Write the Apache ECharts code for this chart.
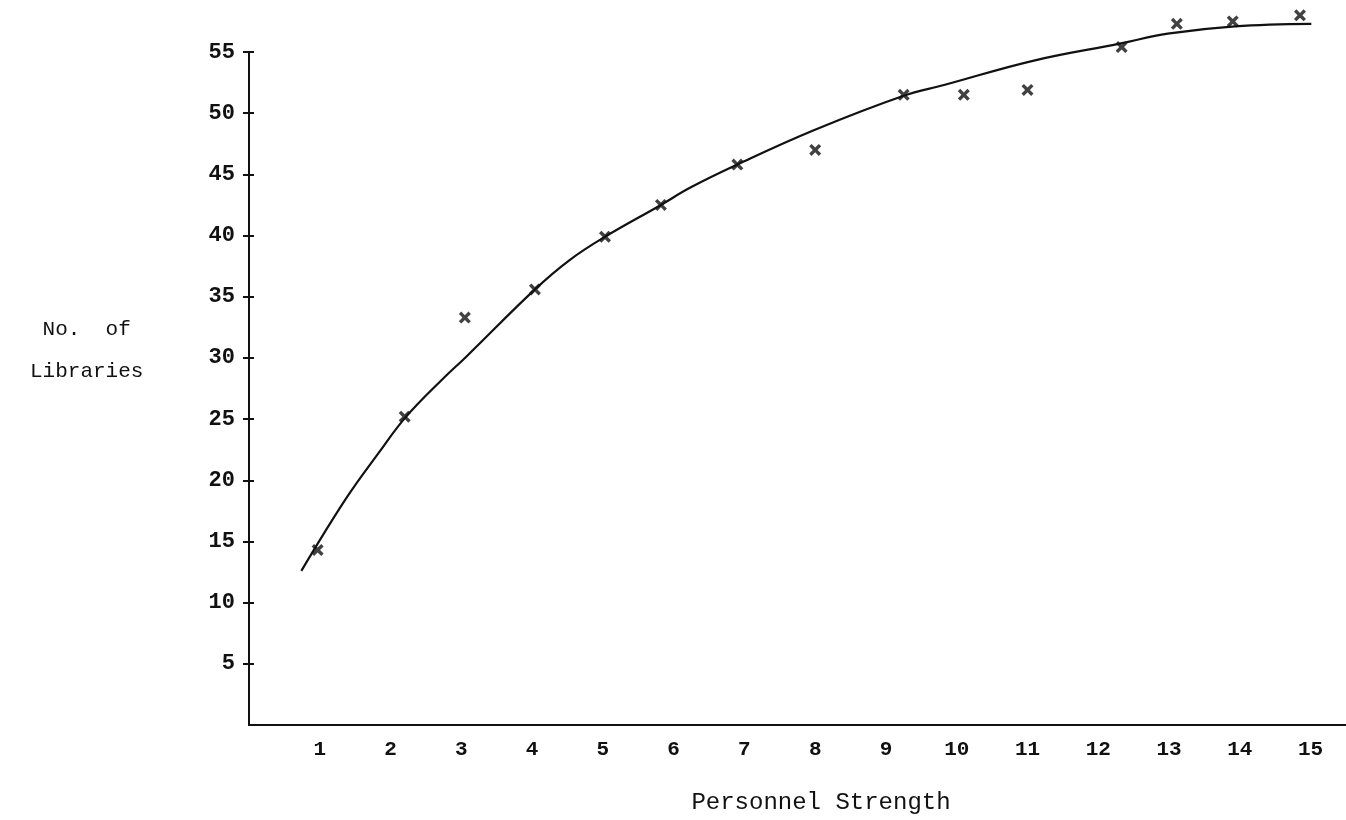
<!DOCTYPE html>
<html>
<head>
<meta charset="utf-8">
<script src="https://cdn.jsdelivr.net/npm/echarts@6/dist/echarts.min.js"></script>
<style>
html,body{margin:0;padding:0;background:#fff;}
#c{width:1346px;height:820px;}
</style>
</head>
<body>
<div id="c"></div>
<script>
// Observed points (x = personnel strength, y = no. of libraries)
const pointX = [0.97, 2.20, 3.05, 4.04, 5.03, 5.82, 6.90, 8.00, 9.25, 10.10, 11.00, 12.33, 13.11, 13.90, 14.85];
const pointY = [14.3, 25.2, 33.3, 35.6, 39.9, 42.5, 45.8, 47.0, 51.5, 51.5, 51.9, 55.4, 57.3, 57.5, 58.0];

// Fitted curve
const curveX = [0.74, 1.37, 1.84, 2.22, 2.74, 3.07, 4.04, 4.53, 5.03, 5.82, 6.23, 6.90, 7.98, 9.24, 9.82, 11.09, 12.32, 12.98, 13.93, 15.01];
const curveY = [12.6, 18.5, 22.3, 25.2, 28.3, 30.1, 35.6, 38.0, 39.9, 42.5, 43.9, 45.8, 48.6, 51.4, 52.3, 54.3, 55.7, 56.5, 57.1, 57.3];

const xTicks = [1,2,3,4,5,6,7,8,9,10,11,12,13,14,15];
const yTicks = [5,10,15,20,25,30,35,40,45,50,55];

const xTitle = 'Personnel Strength';
const yTitle = 'No.  of\nLibraries';

const points = pointX.map((x, i) => [x, pointY[i]]);
const curve = curveX.map((x, i) => [x, curveY[i]]);

const crossPath = 'path://M0,2 L2,0 L5,3 L8,0 L10,2 L7,5 L10,8 L8,10 L5,7 L2,10 L0,8 L3,5 Z';
const mono = '"Liberation Mono", "DejaVu Sans Mono", monospace';

const chart = echarts.init(document.getElementById('c'), null, {renderer: 'canvas'});
chart.setOption({
  backgroundColor: '#ffffff',
  animation: false,
  grid: {left: 249, right: 0, top: 52, bottom: 93, containLabel: false},
  xAxis: {
    type: 'value', min: 0, max: 15.5, interval: 1,
    axisLine: {lineStyle: {color: '#111', width: 2}},
    axisTick: {show: false},
    splitLine: {show: false},
    axisLabel: {
      margin: 14, color: '#111', fontFamily: mono, fontWeight: 'bold', fontSize: 21,
      customValues: xTicks
    },
    name: xTitle, nameLocation: 'middle', nameGap: 66,
    nameTextStyle: {fontFamily: mono, fontSize: 24, color: '#111', padding: [0, 0, 0, 47]}
  },
  yAxis: [{
    type: 'value', min: 0, max: 55, interval: 5,
    axisLine: {show: true, lineStyle: {color: '#111', width: 2}},
    axisTick: {show: true, length: 6, lineStyle: {color: '#111', width: 2}, customValues: yTicks},
    splitLine: {show: false},
    axisLabel: {
      margin: 14, color: '#111', fontFamily: mono, fontWeight: 'bold', fontSize: 22,
      customValues: yTicks
    }
  }, {
    type: 'value', min: 0, max: 55, interval: 5, position: 'left',
    axisLine: {show: false},
    axisTick: {show: true, inside: true, length: 5, lineStyle: {color: '#111', width: 2}, customValues: yTicks},
    axisLabel: {show: false},
    splitLine: {show: false}
  }],
  graphic: [{
    type: 'text', left: 30, top: 308,
    style: {text: yTitle, font: '21px ' + mono, fill: '#111', textAlign: 'center', lineHeight: 42, x: 58}
  }],
  series: [{
    type: 'line', data: curve, smooth: 0.4, showSymbol: false, clip: false,
    yAxisIndex: 0,
    lineStyle: {color: '#111', width: 2.2}
  }, {
    type: 'scatter', data: points, clip: false, yAxisIndex: 0,
    symbol: crossPath, symbolSize: 12,
    itemStyle: {color: '#111'}
  }]
});
</script>
</body>
</html>
